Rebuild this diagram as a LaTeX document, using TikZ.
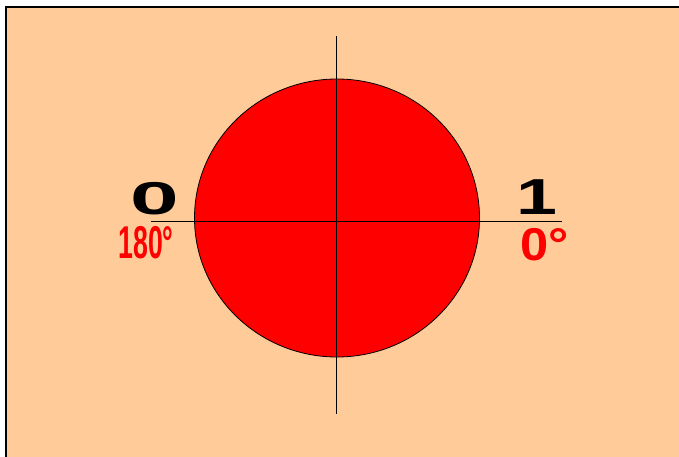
\documentclass[tikz,border=0pt]{standalone}
\usepackage{fontspec}
\setmainfont{Liberation Sans}
\usepackage{tikz}
\usetikzlibrary{positioning}

\definecolor{peach}{HTML}{FFCC99}
\definecolor{discred}{HTML}{FF0000}

\tikzset{
    bit/.style={inner sep=0pt, font=\bfseries\fontsize{46}{46}\selectfont, text=black},
    angle/.style={inner sep=0pt, font=\bfseries\fontsize{46}{46}\selectfont, text=discred}
}

\begin{document}
\begin{tikzpicture}[x=1pt, y=-1pt]
    \useasboundingbox (0,0) rectangle (679,457);
    \fill[white] (0,0) rectangle (679,457);
    \fill[peach] (6,7) rectangle (679,457);
    \draw[line width=1.6pt] (6,457) -- (6,7) -- (679,7);

    % disc
    \filldraw[fill=discred, draw=black, line width=0.8pt] (337,218) ellipse [x radius=142.5, y radius=139];

    % axes
    \coordinate (top) at (336,36);
    \coordinate (bottom) at (336,414);
    \coordinate (left) at (151,221);
    \coordinate (right) at (562,221);
    \draw[line width=1pt] (top) -- (bottom);
    \draw[line width=1pt] (left) -- (right);

    % labels
    \node[bit, xscale=1.9] (zero) at (155,199) {0};
    \node[bit, xscale=1.6, yscale=1.1] (one) at (537,197) {1};
    \node[angle, xscale=0.58] (deg180) at (146,243) {180°};
    \node[angle, xscale=1.1] (deg0) at (545,245) {0°};
\end{tikzpicture}
\end{document}
